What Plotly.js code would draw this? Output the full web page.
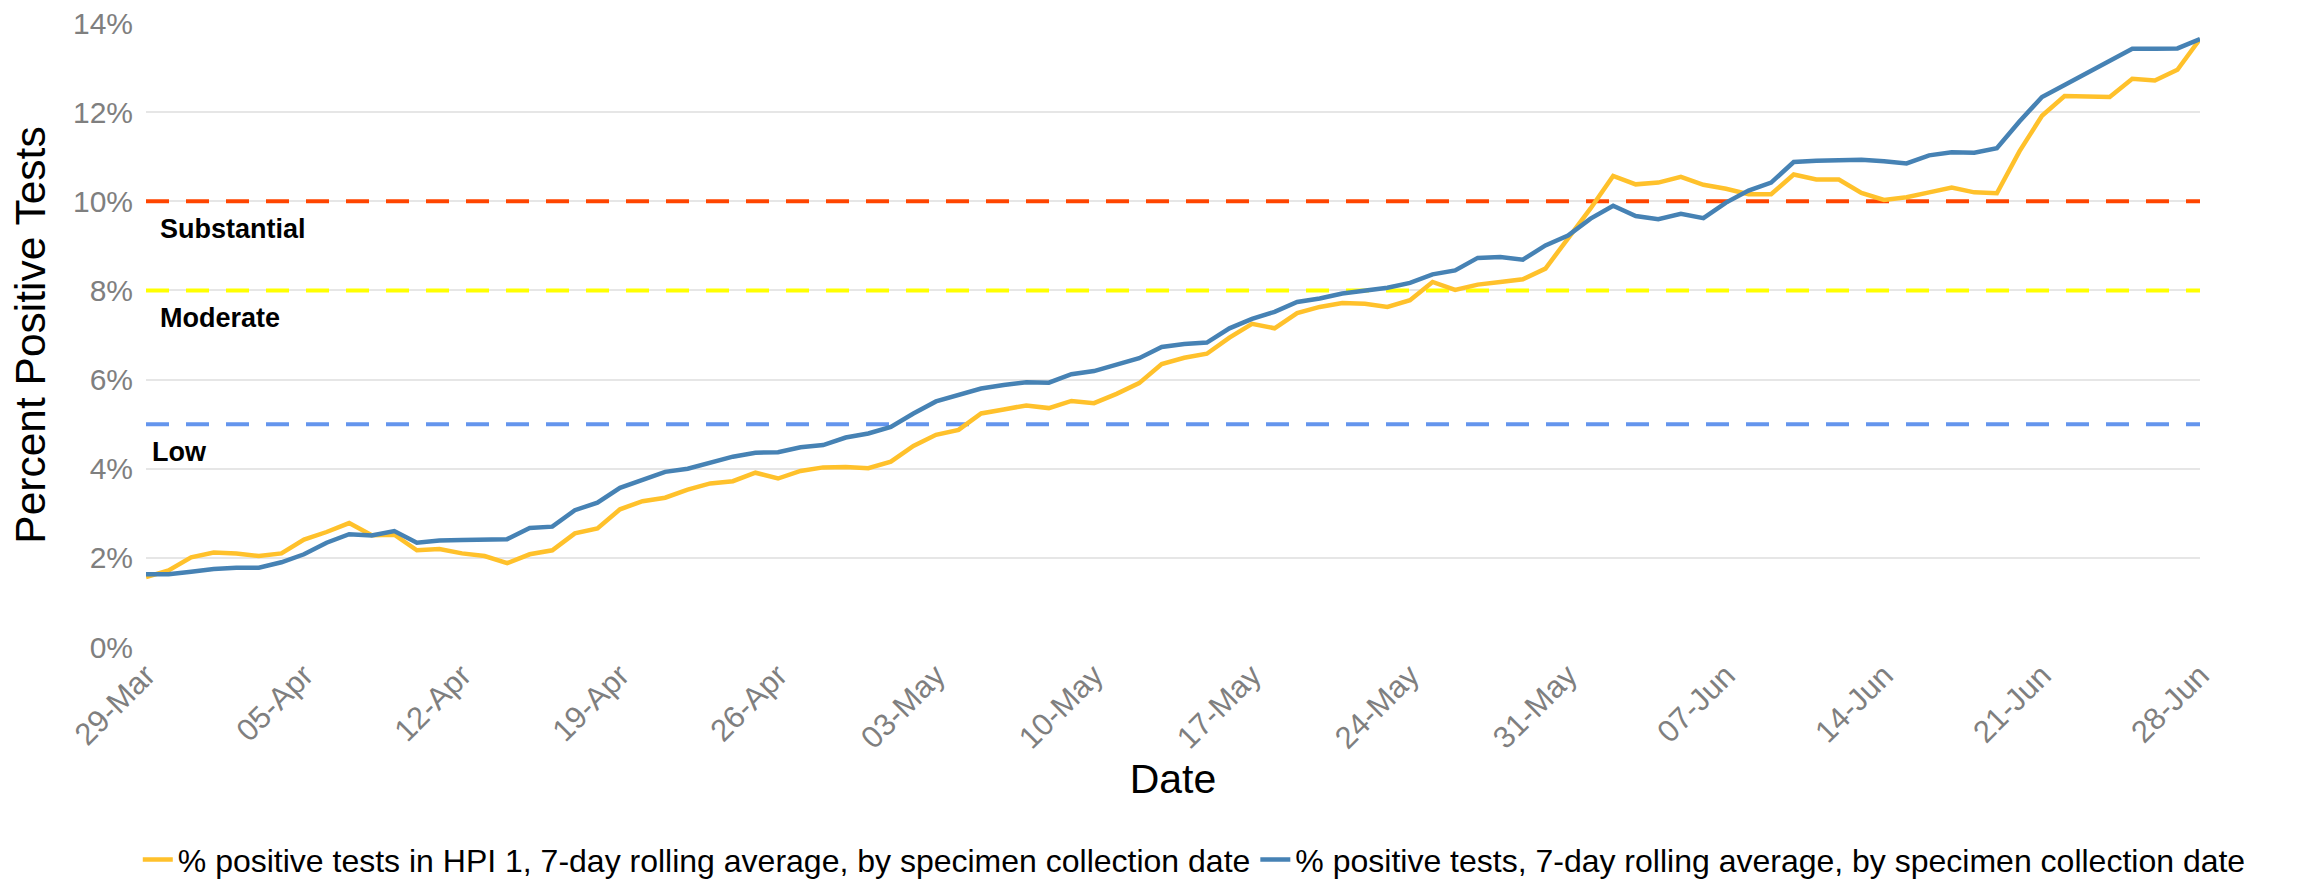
<!DOCTYPE html>
<html>
<head>
<meta charset="utf-8">
<script src="https://cdn.plot.ly/plotly-3.0.1.min.js"></script>
<style>html,body{margin:0;padding:0;background:#fff;}#chart{width:2300px;height:883px;}</style>
</head>
<body>
<div id="chart"></div>
<script>
const dates = [
 '2022-03-29','2022-03-30','2022-03-31','2022-04-01','2022-04-02','2022-04-03','2022-04-04',
 '2022-04-05','2022-04-06','2022-04-07','2022-04-08','2022-04-09','2022-04-10','2022-04-11',
 '2022-04-12','2022-04-13','2022-04-14','2022-04-15','2022-04-16','2022-04-17','2022-04-18',
 '2022-04-19','2022-04-20','2022-04-21','2022-04-22','2022-04-23','2022-04-24','2022-04-25',
 '2022-04-26','2022-04-27','2022-04-28','2022-04-29','2022-04-30','2022-05-01','2022-05-02',
 '2022-05-03','2022-05-04','2022-05-05','2022-05-06','2022-05-07','2022-05-08','2022-05-09',
 '2022-05-10','2022-05-11','2022-05-12','2022-05-13','2022-05-14','2022-05-15','2022-05-16',
 '2022-05-17','2022-05-18','2022-05-19','2022-05-20','2022-05-21','2022-05-22','2022-05-23',
 '2022-05-24','2022-05-25','2022-05-26','2022-05-27','2022-05-28','2022-05-29','2022-05-30',
 '2022-05-31','2022-06-01','2022-06-02','2022-06-03','2022-06-04','2022-06-05','2022-06-06',
 '2022-06-07','2022-06-08','2022-06-09','2022-06-10','2022-06-11','2022-06-12','2022-06-13',
 '2022-06-14','2022-06-15','2022-06-16','2022-06-17','2022-06-18','2022-06-19','2022-06-20',
 '2022-06-21','2022-06-22','2022-06-23','2022-06-24','2022-06-25','2022-06-26','2022-06-27',
 '2022-06-28'
];

const hpi1Pct = [
 1.57,1.72,2.01,2.12,2.10,2.04,2.10,
 2.41,2.58,2.78,2.51,2.52,2.17,2.20,
 2.10,2.04,1.88,2.08,2.17,2.55,2.66,
 3.09,3.27,3.35,3.53,3.67,3.72,3.91,
 3.78,3.95,4.03,4.04,4.01,4.16,4.51,
 4.76,4.87,5.24,5.33,5.42,5.36,5.52,
 5.47,5.68,5.92,6.35,6.49,6.58,6.94,
 7.25,7.15,7.49,7.63,7.72,7.70,7.63,
 7.78,8.19,8.01,8.13,8.19,8.25,8.49,
 9.15,9.84,10.57,10.38,10.42,10.55,10.37,
 10.28,10.16,10.16,10.60,10.49,10.49,10.19,
 10.03,10.09,10.20,10.31,10.20,10.18,11.12,
 11.92,12.36,12.35,12.34,12.75,12.71,12.95,
 13.64
];

const allPct = [
 1.63,1.63,1.69,1.75,1.78,1.78,1.90,
 2.08,2.34,2.53,2.50,2.60,2.34,2.39,
 2.40,2.40,2.42,2.67,2.70,3.07,3.24,
 3.57,3.75,3.93,4.00,4.13,4.27,4.36,
 4.37,4.48,4.53,4.70,4.79,4.94,5.24,
 5.51,5.66,5.80,5.88,5.94,5.93,6.12,
 6.19,6.34,6.48,6.73,6.80,6.83,7.15,
 7.36,7.52,7.74,7.82,7.93,8.00,8.06,
 8.17,8.36,8.45,8.73,8.75,8.69,9.01,
 9.23,9.61,9.90,9.67,9.60,9.72,9.62,
 9.97,10.24,10.42,10.88,10.91,10.92,10.93,
 10.90,10.85,11.03,11.10,11.09,11.19,11.79,
 12.34,12.61,12.88,13.13,13.42,13.42,13.43,
 13.64
];

const seriesNames = [
 '% positive tests in HPI 1, 7-day rolling average, by specimen collection date',
 '% positive tests, 7-day rolling average, by specimen collection date'
];

const thresholdValues = [10, 8, 5];
const thresholdLabels = ['Substantial', 'Moderate', 'Low'];

const tickDates = ['2022-03-29','2022-04-05','2022-04-12','2022-04-19','2022-04-26','2022-05-03','2022-05-10',
 '2022-05-17','2022-05-24','2022-05-31','2022-06-07','2022-06-14','2022-06-21','2022-06-28'];
const tickLabels = ['29-Mar','05-Apr','12-Apr','19-Apr','26-Apr','03-May','10-May',
 '17-May','24-May','31-May','07-Jun','14-Jun','21-Jun','28-Jun'];

const yTickVals = [0, 2, 4, 6, 8, 10, 12, 14];
const yTickLabels = ['0%','2%','4%','6%','8%','10%','12%','14%'];

const FONT = '"Liberation Sans", Arial, sans-serif';
const thresholdColors = ['#FF4500', '#FFFF00', '#6495ED'];

const first = dates[0], last = dates[dates.length - 1];

const traces = thresholdValues.map((v, i) => ({
  x: [first, last], y: [v, v], type: 'scatter', mode: 'lines',
  line: {color: thresholdColors[i], width: 4, dash: '23px,17px'},
  showlegend: false, hoverinfo: 'skip'
}));

traces.push({
  x: dates, y: hpi1Pct, type: 'scatter', mode: 'lines', name: seriesNames[0],
  line: {color: '#FFC12B', width: 4.5}
});
traces.push({
  x: dates, y: allPct, type: 'scatter', mode: 'lines', name: seriesNames[1],
  line: {color: '#4682B4', width: 4.5}
});

const annXOffsets = [12, 12, 4];
const annotations = thresholdValues.map((v, i) => ({
  xref: 'paper', yref: 'y', x: 0, y: v, xanchor: 'left', yanchor: 'top',
  xshift: annXOffsets[i], yshift: -11,
  text: '<b>' + thresholdLabels[i] + '</b>', showarrow: false,
  font: {family: FONT, size: 27, color: '#000000'}
}));

const layout = {
  width: 2300, height: 883,
  margin: {l: 146, r: 100, t: 23, b: 236, autoexpand: false},
  paper_bgcolor: '#ffffff', plot_bgcolor: '#ffffff',
  font: {family: FONT, color: '#000000'},
  showlegend: true,
  legend: {
    orientation: 'h', x: -0.004, xanchor: 'left', y: -0.341, yanchor: 'middle',
    font: {family: FONT, size: 32, color: '#000000'}, traceorder: 'normal'
  },
  xaxis: {
    type: 'date', range: [first, last],
    tickvals: tickDates, ticktext: tickLabels, tickangle: -45,
    tickfont: {family: FONT, size: 31, color: '#7F7F7F'},
    showgrid: false, zeroline: false, showline: false, ticks: '', ticklabelstandoff: 3,
    title: {text: 'Date', font: {family: FONT, size: 41, color: '#000000'}, standoff: 3},
    automargin: false
  },
  yaxis: {
    range: [0, 14], tickvals: yTickVals, ticktext: yTickLabels,
    tickfont: {family: FONT, size: 30, color: '#7F7F7F'},
    showgrid: true, gridcolor: '#E6E6E6', gridwidth: 2,
    zeroline: false, showline: false, ticks: '', ticklabelstandoff: 12,
    title: {text: 'Percent Positive Tests', font: {family: FONT, size: 42.5, color: '#000000'}, standoff: 14},
    automargin: false
  },
  annotations: annotations
};

Plotly.newPlot('chart', traces, layout, {displayModeBar: false, staticPlot: true});
</script>
</body>
</html>
